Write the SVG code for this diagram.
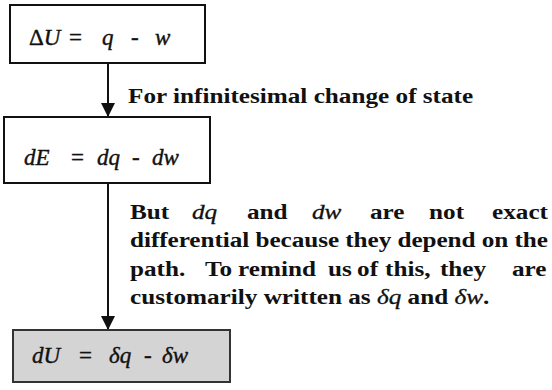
<svg xmlns="http://www.w3.org/2000/svg" width="552" height="390" viewBox="0 0 552 390">
  <style>
    text { font-family: 'Liberation Serif', serif; fill: #111; }
    .box { fill: #ffffff; stroke: #111; stroke-width: 2; }
    .shaded { fill: #d4d4d4; stroke: #333; }
    .eq { font-style: italic; font-size: 23px; stroke: #111; stroke-width: 0.4; }
    .up { font-style: normal; }
    .note { font-weight: bold; font-size: 21px; }
    .it { font-style: italic; font-weight: normal; stroke: #111; stroke-width: 0.3; }
    .wire { stroke: #111; stroke-width: 2; fill: none; }
  </style>
  <defs>
    <marker id="head" viewBox="0 0 14 14" refX="14" refY="7" markerWidth="14" markerHeight="14" markerUnits="userSpaceOnUse" orient="auto">
      <path d="M0,0 L14,7 L0,14 Z" fill="#111"/>
    </marker>
  </defs>

  <g id="connectors">
    <line class="wire" x1="108" y1="63" x2="108" y2="117" marker-end="url(#head)"/>
    <line class="wire" x1="108" y1="183" x2="108" y2="330" marker-end="url(#head)"/>
  </g>

  <g id="first-law">
    <rect class="box" x="10" y="5" width="195" height="58"/>
    <text class="eq" y="45"><tspan x="29" class="up">Δ</tspan><tspan>U</tspan><tspan x="69" class="up">=</tspan><tspan x="102">q</tspan><tspan x="131" class="up">-</tspan><tspan x="155">w</tspan></text>
  </g>

  <g id="infinitesimal">
    <rect class="box" x="4" y="117" width="206" height="66"/>
    <text class="eq" y="165"><tspan x="24">dE</tspan><tspan x="71" class="up">=</tspan><tspan x="97">dq</tspan><tspan x="132" class="up">-</tspan><tspan x="152">dw</tspan></text>
  </g>

  <g id="inexact">
    <rect class="box shaded" x="13" y="330" width="217" height="52"/>
    <text class="eq" y="363"><tspan x="32">dU</tspan><tspan x="79" class="up">=</tspan><tspan x="109">δq</tspan><tspan x="144" class="up">-</tspan><tspan x="162">δw</tspan></text>
  </g>

  <g id="labels">
    <text class="note" transform="translate(128,103) scale(1.2,1)" x="0" y="0">For infinitesimal change of state</text>
    <!-- justified note, set in a horizontally widened face -->
    <g transform="translate(130,0) scale(1.2,1)">
      <text class="note" y="219"><tspan x="0">But</tspan><tspan x="51.7" class="it">dq</tspan><tspan x="97.5">and</tspan><tspan x="151.7" class="it">dw</tspan><tspan x="200">are</tspan><tspan x="249.2">not</tspan><tspan x="301.7">exact</tspan></text>
      <text class="note" x="0" y="247.5" textLength="348.3" lengthAdjust="spacing">differential because they depend on the</text>
      <text class="note" y="276"><tspan x="0">path.</tspan><tspan x="62.5">To</tspan><tspan x="90">remind</tspan><tspan x="165">us</tspan><tspan x="189.2">of</tspan><tspan x="212.5">this,</tspan><tspan x="258.3">they</tspan><tspan x="318.3">are</tspan></text>
      <text class="note" x="0" y="304.5">customarily written as <tspan class="it">δq</tspan> and <tspan class="it">δw</tspan>.</text>
    </g>
  </g>
</svg>
